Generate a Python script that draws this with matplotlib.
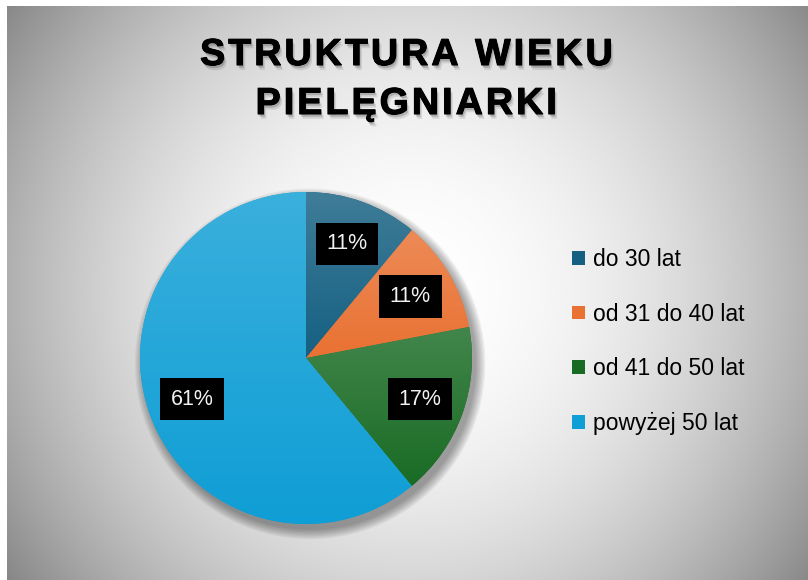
import numpy as np
import matplotlib
matplotlib.use("Agg")
import matplotlib.pyplot as plt
import matplotlib.patheffects as pe
from matplotlib.colors import to_rgb
from matplotlib.patches import Circle, Patch

# data
labels = ['do 30 lat', 'od 31 do 40 lat', 'od 41 do 50 lat', 'powyżej 50 lat']
shares = [11, 11, 17, 61]
colors = ['#156082', '#E97132', '#196B24', '#0F9ED5']
title = 'STRUKTURA WIEKU\nPIELĘGNIARKI'

W, H = 808, 580
fig = plt.figure(figsize=(W / 100, H / 100), dpi=100)
fig.patch.set_facecolor('white')

# radial gray background
bg = fig.add_axes([7 / W, 0, (W - 7) / W, (H - 6) / H])
bg.set_axis_off()
yy, xx = np.mgrid[6:H, 7:W]
d = np.hypot(xx - 410, yy - 290) / 490
v = np.clip(1 - 0.46 * d ** 2, 0, 1)
bg.imshow(np.dstack([v, v, v]), aspect='auto', extent=(0, 1, 0, 1), interpolation='bilinear')
bg.set_xlim(0, 1)
bg.set_ylim(0, 1)

# title (letter-spaced with hair spaces)
hair = '\u200a'
for line, yp in zip(title.split('\n'), [55, 104]):
    spaced = hair.join(line)
    fig.text(406 / W, 1 - yp / H, spaced, ha='center', va='center', fontsize=27,
             fontweight='bold', family=['Liberation Sans', 'DejaVu Sans'], color='black',
             path_effects=[pe.withSimplePatchShadow(offset=(1, -2), shadow_rgbFace='black', alpha=0.18),
                           pe.withSimplePatchShadow(offset=(2, -3.5), shadow_rgbFace='black', alpha=0.1),
                           pe.withStroke(linewidth=0.8, foreground='black')])

# pie
R = 166
cx, cy = 306, H - 358
ax = fig.add_axes([(cx - R) / W, (cy - R) / H, 2 * R / W, 2 * R / H])
ax.set_axis_off()

# soft shadow
for i in range(8):
    ax.add_patch(Circle((0.025, -0.035), 1.0 + i * 0.008, color='black', alpha=0.05,
                        zorder=0, clip_on=False, lw=0))

wedges, texts, autotexts = ax.pie(
    shares, colors=colors, startangle=90, counterclock=False, radius=1,
    autopct='%d%%', pctdistance=0.73,
    wedgeprops=dict(linewidth=0),
    textprops=dict(color='#f2f2f2', fontsize=15.5, family='Liberation Sans'))
for t in autotexts:
    t.set_bbox(dict(boxstyle='square,pad=0.5', facecolor='black', edgecolor='none'))
    t.set_zorder(5)

# vertical gradient inside each slice
for w, c in zip(wedges, colors):
    w.set_zorder(1)
    th = np.radians(np.linspace(w.theta1, w.theta2, 100))
    px = np.concatenate([[0], np.cos(th)])
    py = np.concatenate([[0], np.sin(th)])
    base = np.array(to_rgb(c))
    light = base + (1 - base) * 0.18
    g = np.linspace(0, 1, 256)[:, None]
    img = light[None, None, :] * (1 - g[..., None]) + base[None, None, :] * g[..., None]
    img = np.repeat(img, 2, axis=1)
    im = ax.imshow(img, extent=(px.min(), px.max(), py.min(), py.max()), aspect='auto',
                   zorder=2, interpolation='bilinear')
    im.set_clip_path(w)

ax.set_xlim(-1, 1)
ax.set_ylim(-1, 1)

# legend
handles = [Patch(facecolor=c, edgecolor='none') for c in colors]
fig.legend(handles, labels, loc='upper left', bbox_to_anchor=(572 / W, 1 - 248 / H),
           frameon=False, prop=dict(family='Liberation Sans', size=16.5),
           handlelength=0.55, handleheight=0.55, handletextpad=0.35, labelspacing=1.38,
           borderaxespad=0, borderpad=0)

fig.savefig('out.png', dpi=100)
